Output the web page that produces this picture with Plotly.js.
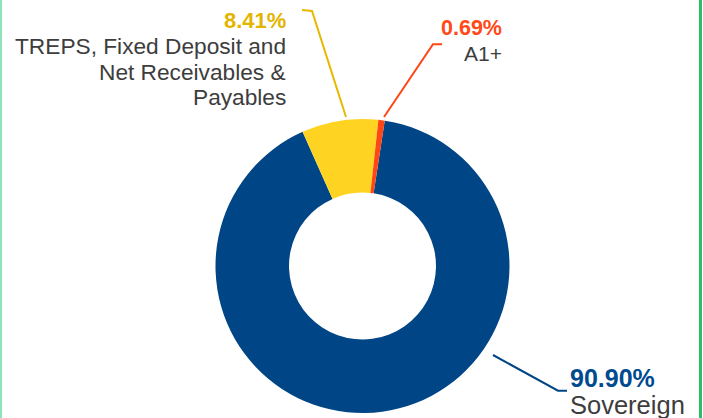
<!DOCTYPE html>
<html>
<head>
<meta charset="utf-8">
<script src="https://cdn.plot.ly/plotly-3.0.1.min.js"></script>
<style>
  html, body { margin: 0; padding: 0; background: #ffffff; }
  #wrap { position: relative; width: 703px; height: 418px; overflow: hidden; }
  #chart { position: absolute; left: 0; top: 0; width: 703px; height: 418px; }
  #bl { position: absolute; left: 0; top: 0; width: 2px; height: 418px; background: #8fe3ba; }
  #br { position: absolute; left: 699px; top: 0; width: 3px; height: 418px; background: #2dbd6b; }
</style>
</head>
<body>
<div id="wrap">
  <div id="chart"></div>
  <div id="bl"></div>
  <div id="br"></div>
</div>
<script>
// Data
var categories = ['Sovereign', 'TREPS, Fixed Deposit and<br>Net Receivables &<br>Payables', 'A1+'];
var shares = [90.90, 8.41, 0.69];
var sliceColors = ['#004586', '#ffd322', '#ff4614'];
var pctColors = ['#004a8f', '#e3b500', '#ff4a17'];
var lineColors = ['#004586', '#e6b800', '#ff4614'];

var W = 703, H = 418;
function px(x) { return x / W; }
function py(y) { return 1 - y / H; }

// label layout (pixel positions in the 703x418 frame)
var labelLayout = [
  { anchor: 'left', x: 568, pctY: 378, pctSize: 25, nameY: [404.5], nameSize: 25.5,
    leader: [[493, 355], [558, 390.7], [567, 390.7]] },
  { anchor: 'right', x: 288, pctY: 20, pctSize: 22, nameY: [46, 72, 97], nameSize: 22.7,
    leader: [[302, 10], [312, 11], [346, 117]] },
  { anchor: 'right', x: 504, pctY: 28, pctSize: 21.5, nameY: [53], nameSize: 21,
    leader: [[442, 44.3], [433, 44.3], [384, 117]] }
];

var annotations = [];
var shapes = [];
categories.forEach(function (cat, i) {
  var L = labelLayout[i];
  annotations.push({
    xref: 'paper', yref: 'paper', x: px(L.x), y: py(L.pctY),
    xanchor: L.anchor, yanchor: 'middle', showarrow: false,
    text: '<b>' + shares[i].toFixed(2) + '%</b>',
    font: { family: 'Liberation Sans, Arial, sans-serif', size: L.pctSize, color: pctColors[i] }
  });
  cat.split('<br>').forEach(function (line, j) {
    annotations.push({
      xref: 'paper', yref: 'paper', x: px(L.x), y: py(L.nameY[j]),
      xanchor: L.anchor, yanchor: 'middle', showarrow: false,
      text: line,
      font: { family: 'Liberation Sans, Arial, sans-serif', size: L.nameSize, color: '#3d3d3d' }
    });
  });
  var path = L.leader.map(function (p, k) {
    return (k === 0 ? 'M' : 'L') + px(p[0]) + ',' + py(p[1]);
  }).join(' ');
  shapes.push({ type: 'path', xref: 'paper', yref: 'paper', path: path,
    line: { color: lineColors[i], width: 2 } });
});

var cx = 362.5, cy = 266, r = 147;
var trace = {
  type: 'pie',
  labels: categories,
  values: shares,
  hole: 0.5,
  sort: false,
  direction: 'clockwise',
  rotation: 8.7,
  textinfo: 'none',
  hoverinfo: 'none',
  showlegend: false,
  marker: { colors: sliceColors, line: { width: 0 } },
  domain: { x: [px(cx - r), px(cx + r)], y: [py(cy + r), py(cy - r)] }
};

var layout = {
  width: W, height: H,
  margin: { l: 0, r: 0, t: 0, b: 0 },
  paper_bgcolor: '#ffffff',
  showlegend: false,
  annotations: annotations,
  shapes: shapes
};

Plotly.newPlot('chart', [trace], layout, { displayModeBar: false, staticPlot: true });
</script>
</body>
</html>
